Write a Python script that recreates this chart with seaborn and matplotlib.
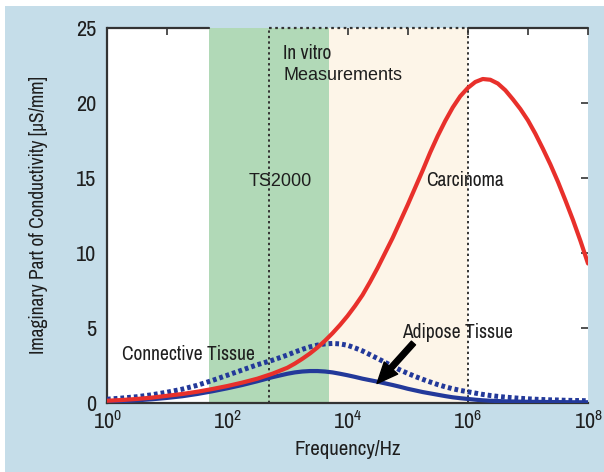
import matplotlib
matplotlib.use("Agg")
import matplotlib.pyplot as plt
from matplotlib.patches import Rectangle
from matplotlib.ticker import NullLocator
import seaborn as sns
import pandas as pd

# Frequency grid, as decade exponents (Hz = 10**exponent)
freq_exponent = [0.0, 0.25, 0.5, 0.75, 1.0, 1.25, 1.5, 1.75, 2.0, 2.25, 2.5, 2.75,
                 3.0, 3.125, 3.25, 3.375, 3.5, 3.625, 3.75, 3.875,
                 4.0, 4.125, 4.25, 4.375, 4.5, 4.625, 4.75, 4.875,
                 5.0, 5.125, 5.25, 5.375, 5.5, 5.625, 5.75, 5.875,
                 6.0, 6.125, 6.25, 6.375, 6.5, 6.625, 6.75, 6.875,
                 7.0, 7.125, 7.25, 7.375, 7.5, 7.625, 7.75, 7.875, 8.0]

# Imaginary part of conductivity [uS/mm]
carcinoma = [0.15, 0.20, 0.27, 0.36, 0.48, 0.60, 0.75, 0.93, 1.13, 1.36, 1.62, 1.95,
             2.35, 2.63, 2.95, 3.30, 3.70, 4.15, 4.65, 5.20,
             5.80, 6.47, 7.20, 8.07, 9.00, 10.0, 11.0, 12.1,
             13.2, 14.35, 15.5, 16.7, 17.8, 18.8, 19.7, 20.45,
             21.0, 21.4, 21.6, 21.55, 21.3, 20.85, 20.25, 19.6,
             18.85, 17.95, 16.95, 15.9, 14.75, 13.5, 12.2, 10.8, 9.3]
adipose = [0.08, 0.12, 0.18, 0.25, 0.34, 0.45, 0.60, 0.78, 0.98, 1.20, 1.45, 1.72,
           1.95, 2.04, 2.10, 2.13, 2.13, 2.10, 2.04, 1.95,
           1.85, 1.74, 1.62, 1.52, 1.42, 1.31, 1.20, 1.08,
           0.95, 0.84, 0.73, 0.64, 0.55, 0.46, 0.38, 0.32,
           0.27, 0.22, 0.18, 0.15, 0.13, 0.11, 0.10, 0.09,
           0.08, 0.075, 0.07, 0.065, 0.06, 0.055, 0.05, 0.05, 0.05]
connective = [0.25, 0.33, 0.42, 0.55, 0.72, 0.92, 1.18, 1.50, 1.85, 2.20, 2.55, 2.85,
              3.20, 3.40, 3.58, 3.74, 3.86, 3.94, 3.97, 3.94,
              3.85, 3.67, 3.47, 3.22, 2.97, 2.71, 2.45, 2.20,
              1.98, 1.77, 1.58, 1.40, 1.23, 1.08, 0.95, 0.84,
              0.75, 0.66, 0.57, 0.50, 0.44, 0.39, 0.35, 0.31,
              0.28, 0.25, 0.23, 0.21, 0.20, 0.18, 0.17, 0.16, 0.15]

# Frequency bands [Hz]
ts2000_band = (50, 5000)
invitro_band = (500, 1e6)

x_ticks = [1, 10, 100, 1e3, 1e4, 1e5, 1e6, 1e7, 1e8]
x_tick_labels = [r"$10^{0}$", "", r"$10^{2}$", "", r"$10^{4}$", "", r"$10^{6}$", "", r"$10^{8}$"]
y_ticks = [0, 5, 10, 15, 20, 25]

freq = [10 ** e for e in freq_exponent]
df = pd.DataFrame({"freq": freq, "Carcinoma": carcinoma,
                   "Adipose Tissue": adipose, "Connective Tissue": connective})

sns.set_style("white")
FONT = ["Archivo Narrow", "Liberation Sans", "DejaVu Sans"]
WIDE = ["Liberation Sans", "DejaVu Sans"]
plt.rcParams["font.family"] = FONT
plt.rcParams["mathtext.fontset"] = "custom"
plt.rcParams["mathtext.rm"] = "Archivo Narrow"
plt.rcParams["mathtext.it"] = "Archivo Narrow"
plt.rcParams["mathtext.sf"] = "Archivo Narrow"

BG = "#c5dde9"
GREEN = "#b1d9b7"
BEIGE = "#fdf5e8"
RED = "#e8302b"
NAVY = "#23399a"
DARK = "#333333"
INK = "#1e1e1e"

fig = plt.figure(figsize=(6.04, 4.72), dpi=100, facecolor="white")
fig.patches.append(Rectangle((5 / 604, 0), 1, 1 - 6 / 472, transform=fig.transFigure,
                             facecolor=BG, edgecolor="none", zorder=-10))
ax = fig.add_axes([107 / 604, 1 - 403 / 472, (588 - 107) / 604, (403 - 28) / 472])
ax.set_facecolor("white")

ax.set_xscale("log")
ax.set_xlim(1, 1e8)
ax.set_ylim(0, 25)

# frequency bands
ax.axvspan(invitro_band[0], invitro_band[1], color=BEIGE, zorder=0.5, lw=0)
ax.axvspan(*ts2000_band, color=GREEN, zorder=0.6, lw=0)

# dotted frame of the in vitro measurement range
dot = (0, (1.2, 1.6))
for xv in invitro_band:
    ax.axvline(xv, color=DARK, lw=1.4, ls=dot, zorder=1.5)
ax.plot(invitro_band, [25, 25], color=DARK, lw=1.6, ls=dot, zorder=5, clip_on=False)
ax.plot([1, ts2000_band[0]], [25, 25], color=DARK, lw=1.6, zorder=5, clip_on=False)
ax.plot([invitro_band[1], 1e8], [25, 25], color=DARK, lw=1.6, zorder=5, clip_on=False)

sns.lineplot(data=df, x="freq", y="Connective Tissue", ax=ax, color=NAVY, lw=3.6,
             zorder=3)
ax.lines[-1].set_linestyle((0, (0.75, 0.6)))
ax.lines[-1].set_dash_capstyle("butt")
sns.lineplot(data=df, x="freq", y="Adipose Tissue", ax=ax, color=NAVY, lw=3.0, zorder=3.2)
sns.lineplot(data=df, x="freq", y="Carcinoma", ax=ax, color=RED, lw=3.0, zorder=3.4)

ax.set_xticks(x_ticks)
ax.set_xticklabels(x_tick_labels)
ax.xaxis.set_minor_locator(NullLocator())
ax.set_yticks(y_ticks)
ax.tick_params(axis="both", which="major", direction="in", length=5, width=1.2,
               color=DARK, labelsize=16, labelcolor=INK,
               top=True, right=True)
ax.tick_params(axis="y", pad=8)
ax.tick_params(axis="x", pad=5)

for side in ("top", "right"):
    ax.spines[side].set_visible(False)
for side in ("left", "bottom"):
    ax.spines[side].set_color(DARK)
    ax.spines[side].set_linewidth(1.6)

ax.set_xlabel("Frequency/Hz", fontsize=15, color=INK, labelpad=5)
ax.set_ylabel("Imaginary Part of Conductivity [μS/mm]", fontsize=14, color=INK,
              labelpad=20)

tk = dict(fontsize=14, color=INK, zorder=6)
ax.text(850, 23.3, "In vitro", ha="left", va="center", **tk)
ax.text(850, 21.8, "Measurements", ha="left", va="center", family=WIDE,
        **{**tk, "fontsize": 13})
ax.text(760, 14.8, "TS2000", ha="center", va="center", family=WIDE,
        **{**tk, "fontsize": 13})
ax.text(9.1e5, 14.8, "Carcinoma", ha="center", va="center", **tk)
ax.text(1.8, 3.2, "Connective Tissue", ha="left", va="center", **tk)
ax.text(8e4, 4.7, "Adipose Tissue", ha="left", va="center", **tk)
ax.annotate("", xy=(3.1e4, 1.3), xytext=(1.25e5, 4.0),
            arrowprops=dict(facecolor="black", edgecolor="black", width=4,
                            headwidth=13, headlength=15, shrink=0),
            zorder=6)

fig.savefig("out.png", dpi=100, facecolor=fig.get_facecolor())
